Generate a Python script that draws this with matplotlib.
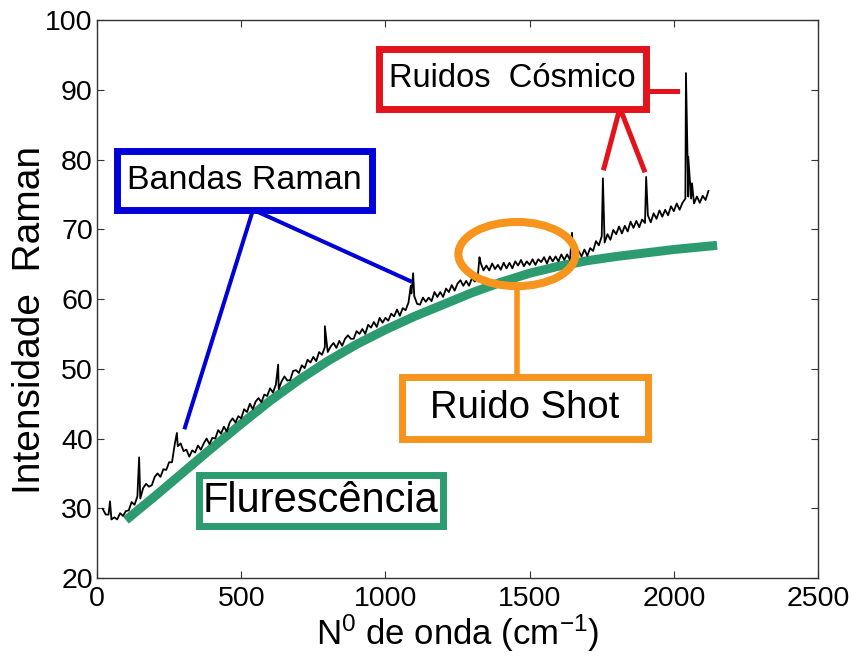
import numpy as np
import matplotlib
matplotlib.use("Agg")
import matplotlib.pyplot as plt
from matplotlib.patches import Rectangle, Ellipse

plt.rcParams['font.family'] = ['Liberation Sans', 'DejaVu Sans']
plt.rcParams['mathtext.default'] = 'regular'

# Raman spectrum, sampled every 10 cm-1 from 20 to 2120
wavenumber = np.arange(20, 2121, 10)
intensity = [
    29.9, 29.1, 29.1, 28.4, 28.7, 28.4, 29.3, 28.9, 29.6, 29.7,
    30.9, 30.5, 31.7, 31.4, 32.9, 33.5, 33.1, 33.3, 34.5, 35.0,
    34.5, 35.6, 35.5, 36.6, 36.6, 39.3, 38.9, 39.3, 38.2, 38.4,
    37.4, 38.3, 38.0, 39.0, 38.4, 39.3, 40.0, 39.2, 40.1, 40.0,
    41.2, 40.7, 41.7, 41.0, 42.3, 42.9, 42.3, 43.2, 42.9, 44.2,
    43.8, 45.0, 44.2, 45.3, 45.8, 45.2, 46.3, 46.1, 47.2, 46.6,
    47.7, 47.1, 48.2, 48.9, 48.3, 48.4, 49.7, 49.8, 49.4, 50.5,
    50.1, 51.3, 50.9, 51.7, 51.1, 52.4, 52.0, 53.1, 52.4, 53.2,
    53.7, 53.0, 54.0, 53.3, 54.3, 54.8, 54.3, 54.3, 55.4, 55.0,
    55.7, 55.0, 56.3, 55.9, 56.7, 56.0, 57.3, 56.6, 57.3, 56.9,
    57.9, 57.5, 58.5, 57.6, 58.7, 58.4, 59.5, 60.8, 60.4, 59.3,
    59.2, 60.2, 59.6, 60.2, 59.7, 61.0, 60.3, 61.0, 60.3, 61.5,
    61.0, 62.0, 61.2, 62.2, 62.7, 61.9, 62.6, 61.9, 63.0, 62.5,
    63.1, 65.2, 64.1, 64.8, 64.1, 65.1, 64.3, 64.9, 64.2, 65.2,
    64.4, 65.2, 64.4, 65.4, 64.8, 65.6, 64.7, 65.4, 64.9, 65.7,
    64.9, 65.7, 65.3, 66.0, 65.1, 66.1, 65.4, 66.1, 65.4, 66.4,
    65.6, 66.4, 65.6, 66.6, 65.7, 66.9, 66.1, 67.1, 66.2, 67.3,
    66.9, 68.3, 67.7, 69.0, 68.1, 69.3, 68.5, 69.9, 69.3, 70.4,
    69.4, 70.5, 69.7, 71.1, 70.2, 71.2, 70.3, 71.4, 70.9, 72.0,
    71.0, 72.3, 71.5, 72.7, 71.8, 72.8, 72.0, 73.3, 72.6, 73.7,
    72.8, 73.8, 74.4, 74.7, 74.4, 73.7, 74.7, 73.8, 74.8, 74.2, 75.5,
]

# narrow peaks: Raman bands and cosmic-ray hits
spike_x = [45, 146, 277, 628, 790, 1088, 1096, 1326, 1647, 1754, 1904, 2042, 2050, 2063]
spike_y = [31.0, 37.3, 40.8, 50.6, 56.1, 61.9, 63.7, 66.0, 69.5, 77.3, 77.5, 92.4, 80.4, 76.6]

# fluorescence background
fluor_x = [100, 200, 300, 400, 500, 600, 700, 800, 900, 1000, 1100,
           1200, 1300, 1400, 1500, 1600, 1700, 1800, 1900, 2000, 2100, 2150]
fluor_y = [28.3, 31.7, 35.2, 38.7, 42.1, 45.4, 48.4, 51.1, 53.5, 55.6, 57.5,
           59.2, 60.9, 62.4, 63.7, 64.7, 65.5, 66.1, 66.6, 67.1, 67.5, 67.7]

x_all = np.concatenate([wavenumber, spike_x])
y_all = np.concatenate([intensity, spike_y])
order = np.argsort(x_all, kind='stable')
x_all, y_all = x_all[order], y_all[order]

BLUE = '#0000D8'
RED = '#E3121B'
ORANGE = '#F7941D'
GREEN = '#2D9B70'

fig = plt.figure(figsize=(8.54, 6.57), dpi=100)
ax = fig.add_axes([0.1136, 0.1202, 0.8443, 0.8493])

ax.plot(fluor_x, fluor_y, color=GREEN, lw=6.5, solid_capstyle='butt',
        solid_joinstyle='round', zorder=2)
ax.plot(x_all, y_all, color='black', lw=1.3, zorder=3)

ax.set_xlim(0, 2500)
ax.set_ylim(20, 100)
ax.set_xticks([0, 500, 1000, 1500, 2000, 2500])
ax.set_yticks(np.arange(20, 101, 10))
ax.tick_params(direction='in', top=True, right=True, length=5, width=0.8,
               color='#333333', labelsize=20.5, pad=6)
ax.tick_params(axis='y', pad=3)
for sp in ax.spines.values():
    sp.set_color('#333333')
    sp.set_linewidth(1.0)

ax.set_xlabel('N$^0$ de onda (cm$^{-1}$)', fontsize=25)
ax.set_ylabel('Intensidade  Raman', fontsize=28)
ax.xaxis.set_label_coords(0.5, -0.062)
ax.yaxis.set_label_coords(-0.068, 0.462)


def label_box(x0, x1, y0, y1, text, color, size):
    ax.add_patch(Rectangle((x0, y0), x1 - x0, y1 - y0, fc='white', ec=color,
                           lw=5, zorder=6))
    ax.text((x0 + x1) / 2, (y0 + y1) / 2, text, fontsize=size, ha='center',
            va='center', zorder=7)


# Raman bands
ax.plot([305, 541, 1085], [41.6, 72.8, 62.6], color=BLUE, lw=2.9, zorder=5)
label_box(68, 955, 72.8, 81.2, 'Bandas Raman', BLUE, 24.5)

# cosmic rays
ax.plot([1758, 1813, 1897], [78.8, 87.4, 78.5], color=RED, lw=3.6, zorder=5)
ax.plot([1905, 2011], [89.8, 89.8], color=RED, lw=3.6, zorder=5)
label_box(976, 1905, 87.3, 95.9, 'Ruidos  Cósmico', RED, 23.5)

# shot noise
ax.add_patch(Ellipse((1456, 66.45), 406, 9.2, fill=False, ec=ORANGE,
                     lw=5.8, zorder=5))
ax.plot([1456, 1456], [61.0, 48.8], color=ORANGE, lw=4, zorder=5)
label_box(1056, 1912, 39.9, 48.8, 'Ruido Shot', ORANGE, 27.5)

# fluorescence
label_box(352, 1198, 27.5, 34.7, 'Flurescência', GREEN, 30)

fig.savefig('out.png', dpi=100)
